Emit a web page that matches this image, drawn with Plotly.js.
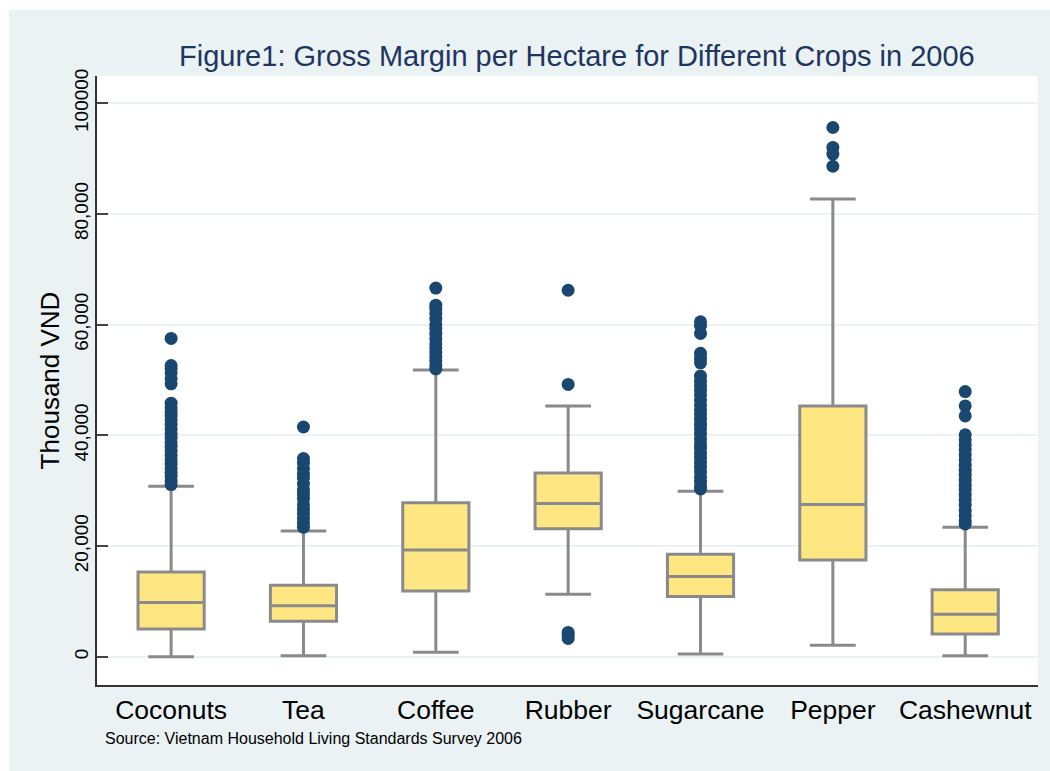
<!DOCTYPE html>
<html>
<head>
<meta charset="utf-8">
<script src="https://cdn.plot.ly/plotly-3.0.1.min.js"></script>
<style>html,body{margin:0;padding:0;background:#fff;}#chart{width:1050px;height:771px;}</style>
</head>
<body>
<div id="chart"></div>
<script>
// Categories
var crops = ["Coconuts", "Tea", "Coffee", "Rubber", "Sugarcane", "Pepper", "Cashewnut"];

// Box statistics (Thousand VND)
var lowerWhisker = [0, 200, 800, 11300, 500, 2100, 200];
var q1Values     = [5000, 6400, 11900, 23100, 10900, 17500, 4100];
var medianValues = [9800, 9200, 19300, 27700, 14500, 27500, 7700];
var q3Values     = [15300, 12900, 27800, 33200, 18500, 45300, 12100];
var upperWhisker = [30800, 22700, 51800, 45300, 29900, 82700, 23400];

// Outliers per crop (Thousand VND)
var outCoconuts = [57500, 52600, 52000, 51300, 50200, 49300, 45800, 45000, 44300, 43600, 42800, 42000, 41200, 40300, 39500, 38700, 38000, 37200, 36400, 35600, 34800, 34000, 33300, 32600, 31800, 31100];
var outTea = [41500, 35800, 35000, 34000, 33000, 32300, 31200, 30200, 29400, 28600, 27500, 26700, 25900, 25000, 24200, 23400];
var outCoffee = [66600, 63500, 62800, 62000, 61000, 60000, 59200, 58300, 57400, 56500, 55800, 55000, 54200, 53400, 52600, 52000];
var outRubber = [66200, 49200, 4400, 3900, 3300];
var outSugarcane = [60500, 59800, 58400, 54800, 53900, 53100, 50700, 49800, 49000, 48100, 47300, 46400, 45500, 44600, 43800, 42900, 42000, 41200, 40300, 39400, 38500, 37700, 36800, 36000, 35100, 34200, 33400, 32500, 31700, 30800, 30300];
var outPepper = [95600, 92000, 90800, 88600];
var outCashewnut = [47900, 45300, 43500, 40100, 39200, 38300, 37400, 36500, 35600, 34600, 33700, 32800, 31900, 31000, 30100, 29200, 28300, 27400, 26400, 25500, 24600, 24000];

// Axis ticks
var yTickVals = [0, 20000, 40000, 60000, 80000, 100000];
var yTickText = ["0", "20,000", "40,000", "60,000", "80,000", "100000"];

var outlierLists = [outCoconuts, outTea, outCoffee, outRubber, outSugarcane, outPepper, outCashewnut];
var outX = [], outY = [];
outlierLists.forEach(function (list, i) {
  list.forEach(function (v) { outX.push(crops[i]); outY.push(v); });
});

var boxTrace = {
  type: "box",
  x: crops,
  q1: q1Values,
  median: medianValues,
  q3: q3Values,
  lowerfence: lowerWhisker,
  upperfence: upperWhisker,
  boxpoints: false,
  width: 0.5,
  whiskerwidth: 0.69,
  fillcolor: "#fee782",
  line: { color: "#8a8a8a", width: 3 },
  hoverinfo: "y",
  showlegend: false
};

var outlierTrace = {
  type: "scatter",
  mode: "markers",
  x: outX,
  y: outY,
  marker: { size: 13, color: "#1a476f" },
  hoverinfo: "y",
  showlegend: false
};

var bg = "#eaf2f3";
var layout = {
  width: 1050,
  height: 771,
  paper_bgcolor: bg,
  plot_bgcolor: "#ffffff",
  margin: { l: 97, r: 12, t: 76, b: 86, pad: 0 },
  font: { family: "Liberation Sans, Arial, sans-serif", color: "#000" },
  title: {
    text: "Figure1: Gross Margin per Hectare for Different Crops in 2006",
    font: { size: 29, color: "#1f3560" },
    x: 0.51, xref: "paper", xanchor: "center",
    y: 0.927, yref: "container", yanchor: "middle"
  },
  xaxis: {
    type: "category",
    categoryorder: "array",
    categoryarray: crops,
    range: [-0.56, 6.55],
    showline: true, linecolor: "#333", linewidth: 1.5,
    ticks: "", showgrid: false, zeroline: false,
    tickfont: { size: 26.5, color: "#000" },
    fixedrange: true
  },
  yaxis: {
    range: [-5100, 104900],
    tickvals: yTickVals,
    ticktext: yTickText,
    tickangle: -90,
    ticks: "inside", ticklen: 11, tickwidth: 1.5, tickcolor: "#444",
    showline: true, linecolor: "#333", linewidth: 1.5,
    showgrid: true, gridcolor: bg, gridwidth: 2,
    zeroline: false,
    tickfont: { size: 19, color: "#000" },
    title: { text: "Thousand VND", font: { size: 26, color: "#000" }, standoff: 4 },
    automargin: false,
    fixedrange: true
  },
  shapes: [
    { type: "rect", xref: "paper", yref: "paper", x0: -0.2, x1: -0.0935, y0: -0.2, y1: 1.3, fillcolor: "#ffffff", line: { width: 0 }, layer: "below" },
    { type: "rect", xref: "paper", yref: "paper", x0: -0.2, x1: 1.1, y0: 1.1084, y1: 1.3, fillcolor: "#ffffff", line: { width: 0 }, layer: "below" }
  ],
  annotations: [
    {
      text: "Source: Vietnam Household Living Standards Survey 2006",
      xref: "paper", yref: "paper",
      x: (103 - 97) / 941, xanchor: "left",
      y: -(738 - 685) / 609, yanchor: "middle",
      showarrow: false,
      font: { size: 16, color: "#000" }
    }
  ]
};

Plotly.newPlot("chart", [boxTrace, outlierTrace], layout, { displayModeBar: false, staticPlot: false });
</script>
</body>
</html>
